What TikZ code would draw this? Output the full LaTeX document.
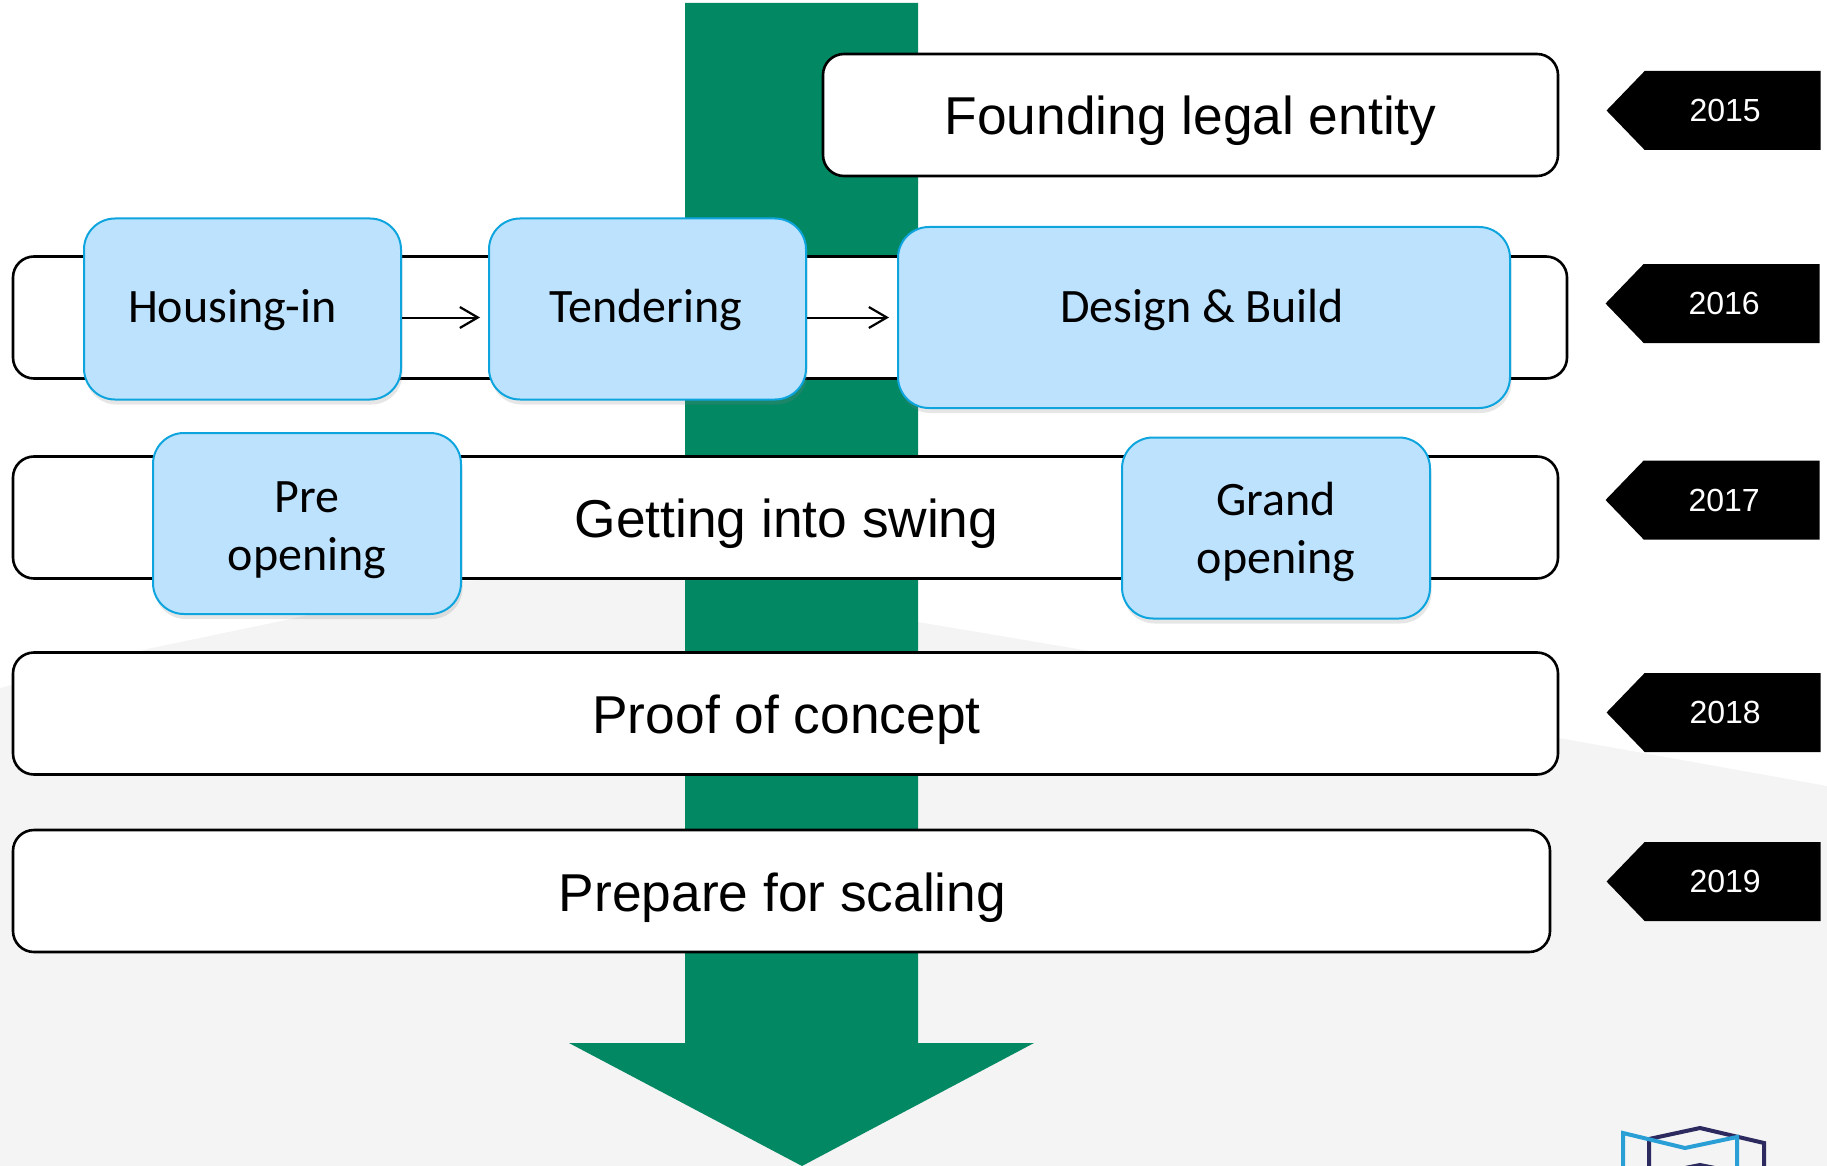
\documentclass[tikz,border=0pt]{standalone}
\usepackage{fontspec}
\setmainfont{Liberation Sans}
\newfontfamily\blockfont{Carlito}
\usetikzlibrary{arrows.meta,shapes.symbols,shadows}
\definecolor{phasegreen}{HTML}{038864}
\definecolor{blockfill}{HTML}{BDE2FD}
\definecolor{blockline}{HTML}{0EA5DE}
\definecolor{backgrey}{HTML}{F4F4F4}
\definecolor{logoblue}{HTML}{2A9FD6}
\definecolor{logodark}{HTML}{2C2A5E}
\tikzset{
bar/.style={
  draw=black,
  line width=2.6pt,
  fill=white,
  rounded corners=21pt,
  minimum height=122pt,
  text height=48pt,
  text depth=8pt,
  font=\fontsize{53.3}{60}\selectfont
},
block/.style={
  draw=blockline,
  line width=2pt,
  fill=blockfill,
  rounded corners=31pt,
  minimum height=181pt,
  align=center,
  font=\blockfont\fontsize{48}{58}\selectfont,
  drop shadow={shadow xshift=1.5pt,shadow yshift=-5pt,opacity=.2}
},
yeartag/.style={
  signal,
  signal to=west,
  signal pointer angle=92,
  fill=black,
  text=white,
  inner sep=0pt,
  minimum width=214pt,
  minimum height=79pt,
  font=\fontsize{32}{38}\selectfont
},
flow/.style={
  line width=2pt,
  -{Straight Barb[length=18pt,width=21pt,line width=2.2pt]},
  shorten >=8pt
},
}
\begin{document}
\begin{tikzpicture}[x=1pt,y=-1pt]
    \useasboundingbox (0,0) rectangle (1827,1166);
    \clip (0,0) rectangle (1827,1166);

    \fill[backgrey] (0,688) -- (152,648) -- (286,620) -- (461,581) -- (685,570)
        -- (918,622) -- (1084,650) -- (1559,738) -- (1827,786)
        -- (1827,1166) -- (0,1166) -- cycle;

    \fill[phasegreen] (685,3) -- (918,3) -- (918,1043) -- (1034,1043)
        -- (802,1166) -- (569,1043) -- (685,1043) -- cycle;

    \node (barfounding) [bar, minimum width=735pt] at (1190.5,115) {Founding legal entity};
    \node (bardesign)   [bar, minimum width=1554pt] at (790,317.5) {};
    \node (barswing)    [bar, minimum width=1545pt] at (785.5,517.5) {\hspace*{2pt}Getting into swing};
    \node (barproof)    [bar, minimum width=1545pt] at (785.5,713.5) {\hspace*{2pt}Proof of concept};
    \node (barscaling)  [bar, minimum width=1537pt] at (781.5,891) {\hspace*{2pt}Prepare for scaling};

    \node (housing)   [block, minimum width=317pt] at (242.5,309) {\rule{0pt}{36pt}Housing-in\hspace*{20pt}};
    \node (tendering) [block, minimum width=317pt] at (647.5,309) {\rule{0pt}{36pt}Tendering\hspace*{4pt}};
    \node (build)     [block, minimum width=612pt] at (1204,317.5) {\rule[-23pt]{0pt}{23pt}Design \& Build\hspace*{3.5pt}};
    \node (preopen)   [block, minimum width=308pt] at (307,523.5) {\rule{0pt}{45pt}Pre\\opening};
    \node (grandopen) [block, minimum width=308pt] at (1276,528) {\rule{0pt}{42pt}Grand\\opening};

    \draw[flow] (housing.east |- bardesign.center) -- (tendering.west |- bardesign.center);
    \draw[flow] (tendering.east |- bardesign.center) -- (build.west |- bardesign.center);

    \node (year2015) [yeartag] at (1732.6,110.5) {2015\hspace*{15pt}};
    \node (year2016) [yeartag] at (1731.6,303.5) {2016\hspace*{15pt}};
    \node (year2017) [yeartag] at (1731.6,500) {2017\hspace*{15pt}};
    \node (year2018) [yeartag] at (1732.6,712.5) {2018\hspace*{15pt}};
    \node (year2019) [yeartag] at (1732.6,881.5) {2019\hspace*{15pt}};

    \draw[logodark, line width=4pt] (1649,1170) -- (1649,1139) -- (1700,1128) -- (1764,1143) -- (1764,1170);
    \draw[logodark, line width=4pt] (1685,1168) -- (1700,1165) -- (1715,1168);
    \draw[logoblue, line width=4pt] (1623,1170) -- (1623,1133) -- (1685,1148) -- (1737,1137) -- (1737,1170);
\end{tikzpicture}
\end{document}
